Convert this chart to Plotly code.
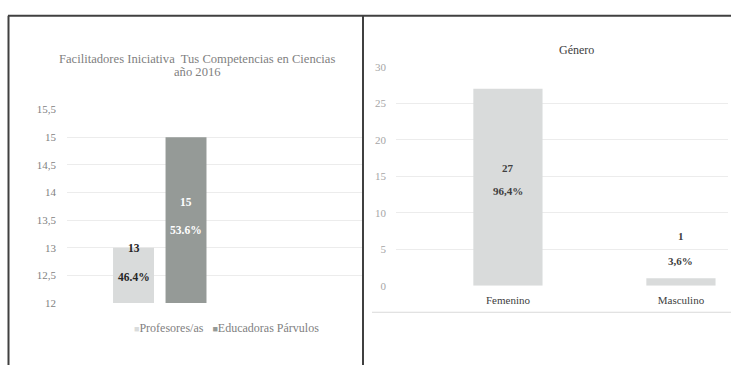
import plotly.graph_objects as go

# ---------------- data ----------------
left_series = ["Profesores/as", "Educadoras Párvulos"]
left_values = [13, 15]
left_pct = ["46.4%", "53.6%"]
left_yticks = [12, 12.5, 13, 13.5, 14, 14.5, 15, 15.5]
left_yticklabels = ["12", "12,5", "13", "13,5", "14", "14,5", "15", "15,5"]
left_title_lines = ["Facilitadores Iniciativa  Tus Competencias en Ciencias", "año 2016"]

right_categories = ["Femenino", "Masculino"]
right_values = [27, 1]
right_pct = ["96,4%", "3,6%"]
right_yticks = [0, 5, 10, 15, 20, 25, 30]
right_title = "Género"

# ---------------- style ----------------
W, H = 731, 371
LIGHT = "#d9dbdb"
DARK = "#959a97"
SERIF = "Liberation Serif"
left_colors = [LIGHT, DARK]
left_label_colors = ["#262626", "#ffffff"]


def px(x):
    return x / W


def py(y):
    return (H - y) / H


fig = go.Figure()

for name, val, col in zip(left_series, left_values, left_colors):
    fig.add_trace(go.Bar(
        x=[name], y=[val], name=name, marker=dict(color=col, line=dict(width=0)),
        width=0.78, xaxis="x", yaxis="y", showlegend=False, hoverinfo="skip",
    ))

fig.add_trace(go.Bar(
    x=right_categories, y=right_values, marker=dict(color=LIGHT, line=dict(width=0)),
    width=0.4, xaxis="x2", yaxis="y2", showlegend=False, hoverinfo="skip",
))

annotations = []
# left data labels (value + percentage)
left_shifts = [(0, -29), (-65, -93)]
for name, val, pct, lc, (s1, s2) in zip(left_series, left_values, left_pct, left_label_colors, left_shifts):
    annotations.append(dict(x=name, y=val, xref="x", yref="y", text=f"<b>{val}</b>",
                            showarrow=False, yshift=s1, font=dict(family=SERIF, size=11.5, color=lc)))
    annotations.append(dict(x=name, y=val, xref="x", yref="y", text=f"<b>{pct}</b>",
                            showarrow=False, yshift=s2, font=dict(family=SERIF, size=11.5, color=lc)))

right_shifts = [(-79, -102), (42, 17)]
for cat, val, pct, (s1, s2) in zip(right_categories, right_values, right_pct, right_shifts):
    annotations.append(dict(x=cat, y=val, xref="x2", yref="y2", text=f"<b>{val}</b>",
                            showarrow=False, yshift=s1, font=dict(family=SERIF, size=11, color="#404040")))
    annotations.append(dict(x=cat, y=val, xref="x2", yref="y2", text=f"<b>{pct}</b>",
                            showarrow=False, yshift=s2, font=dict(family=SERIF, size=11, color="#404040")))

# titles
for line, yc in zip(left_title_lines, [55, 68]):
    annotations.append(dict(x=px(197), y=py(yc), xref="paper", yref="paper", text=line,
                            showarrow=False, xanchor="center", yanchor="middle",
                            font=dict(family=SERIF, size=12.6, color="#7f7f7f")))
annotations.append(dict(x=px(576), y=py(45), xref="paper", yref="paper", text=right_title,
                        showarrow=False, xanchor="center", yanchor="middle",
                        font=dict(family=SERIF, size=12, color="#404040")))

# legend for the left chart (small squares close to the text, as in the original)
legend_text = "   ".join(
    f"<span style='color:{c};font-size:9px'>■</span>{n}" for n, c in zip(left_series, left_colors)
)
annotations.append(dict(x=px(226), y=py(333), xref="paper", yref="paper", text=legend_text,
                        showarrow=False, xanchor="center", yanchor="middle",
                        font=dict(family=SERIF, size=12, color="#7f7f7f")))

shapes = [
    dict(type="line", xref="paper", yref="paper", x0=px(8), x1=1, y0=py(10), y1=py(10),
         line=dict(color="#404040", width=2)),
    dict(type="line", xref="paper", yref="paper", x0=px(8.5), x1=px(8.5), y0=0, y1=py(10),
         line=dict(color="#404040", width=2)),
    dict(type="line", xref="paper", yref="paper", x0=px(363), x1=px(363), y0=0, y1=py(10),
         line=dict(color="#404040", width=2)),
    dict(type="line", xref="paper", yref="paper", x0=px(372), x1=1, y0=py(316.5), y1=py(316.5),
         line=dict(color="#d9d9d9", width=1)),
]

fig.update_layout(
    width=W, height=H, margin=dict(l=0, r=0, t=0, b=0),
    paper_bgcolor="white", plot_bgcolor="white",
    barmode="overlay",
    font=dict(family=SERIF, color="#7f7f7f"),
    xaxis=dict(domain=[px(67), px(362)], range=[-1.267, 4.352], showticklabels=False,
               showgrid=False, zeroline=False, showline=False, fixedrange=True),
    yaxis=dict(domain=[py(307), py(107)], range=[12, 15.5], tickvals=left_yticks,
               ticktext=left_yticklabels, showgrid=True, gridcolor="#ececec", gridwidth=1,
               zeroline=False, showline=False, ticks="", ticklabelstandoff=10,
               tickfont=dict(family=SERIF, size=11, color="#7f7f7f")),
    xaxis2=dict(domain=[px(396), px(728)], range=[-0.647, 1.272], anchor="y2",
                showgrid=False, zeroline=False, showline=False, ticks="", ticklabelstandoff=6,
                tickfont=dict(family=SERIF, size=11, color="#404040")),
    yaxis2=dict(domain=[py(289), py(63)], range=[0, 30], anchor="x2", tickvals=right_yticks,
                showgrid=True, gridcolor="#ececec", gridwidth=1, zeroline=False, showline=False,
                ticks="", ticklabelstandoff=9,
                tickfont=dict(family=SERIF, size=11, color="#a6a6a6")),
    showlegend=False,
    annotations=annotations, shapes=shapes,
)

# pin the graph to the top-left corner of the page (no body margin / scrolling)
post = (
    "document.body.style.margin='0';document.body.style.padding='0';"
    "document.body.style.overflow='hidden';"
    "var d=document.getElementById('{plot_id}');"
    "d.style.position='fixed';d.style.left='0px';d.style.top='0px';"
)

fig.write_html("out.html", post_script=post, config={"displayModeBar": False})
